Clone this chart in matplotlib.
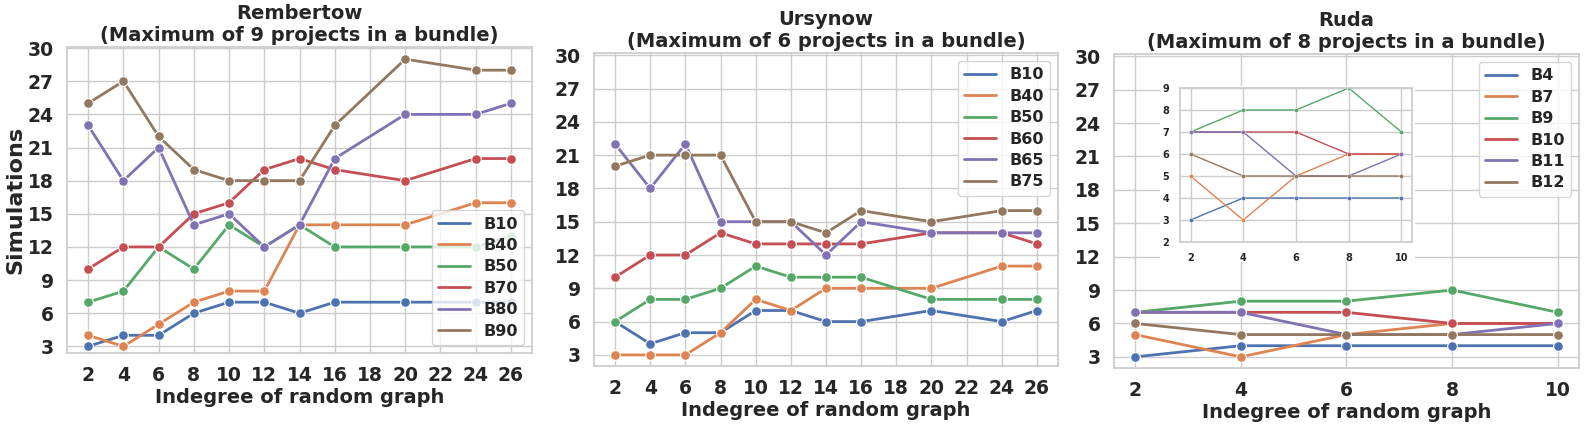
import matplotlib
matplotlib.use('Agg')
import matplotlib.pyplot as plt
import seaborn as sns
from matplotlib.patches import Rectangle
from matplotlib.lines import Line2D

# ---- data ----
x_big = [2, 4, 6, 8, 10, 12, 14, 16, 20, 24, 26]
x_ruda = [2, 4, 6, 8, 10]

rem_labels = ['B10', 'B40', 'B50', 'B70', 'B80', 'B90']
rem_b10 = [3, 4, 4, 6, 7, 7, 6, 7, 7, 7, 7]
rem_b40 = [4, 3, 5, 7, 8, 8, 14, 14, 14, 16, 16]
rem_b50 = [7, 8, 12, 10, 14, 12, 14, 12, 12, 12, 13]
rem_b70 = [10, 12, 12, 15, 16, 19, 20, 19, 18, 20, 20]
rem_b80 = [23, 18, 21, 14, 15, 12, 14, 20, 24, 24, 25]
rem_b90 = [25, 27, 22, 19, 18, 18, 18, 23, 29, 28, 28]

urs_labels = ['B10', 'B40', 'B50', 'B60', 'B65', 'B75']
urs_b10 = [6, 4, 5, 5, 7, 7, 6, 6, 7, 6, 7]
urs_b40 = [3, 3, 3, 5, 8, 7, 9, 9, 9, 11, 11]
urs_b50 = [6, 8, 8, 9, 11, 10, 10, 10, 8, 8, 8]
urs_b60 = [10, 12, 12, 14, 13, 13, 13, 13, 14, 14, 13]
urs_b65 = [22, 18, 22, 15, 15, 15, 12, 15, 14, 14, 14]
urs_b75 = [20, 21, 21, 21, 15, 15, 14, 16, 15, 16, 16]

ruda_labels = ['B4', 'B7', 'B9', 'B10', 'B11', 'B12']
ruda_b4 = [3, 4, 4, 4, 4]
ruda_b7 = [5, 3, 5, 6, 6]
ruda_b9 = [7, 8, 8, 9, 7]
ruda_b10 = [7, 7, 7, 6, 6]
ruda_b11 = [7, 7, 5, 5, 6]
ruda_b12 = [6, 5, 5, 5, 5]

titles = ['Rembertow\n(Maximum of 9 projects in a bundle)',
          'Ursynow\n(Maximum of 6 projects in a bundle)',
          'Ruda\n(Maximum of 8 projects in a bundle)']

sns.set_theme(style='whitegrid')
plt.rcParams['font.family'] = ['DejaVu Sans']
plt.rcParams['font.weight'] = 'bold'
colors = sns.color_palette('deep')

fig = plt.figure(figsize=(15.92, 4.24), dpi=100)
ax1 = fig.add_axes([0.0421, 0.1675, 0.2921, 0.7217])
ax2 = fig.add_axes([0.3731, 0.1368, 0.2915, 0.7382])
ax3 = fig.add_axes([0.6997, 0.1321, 0.2921, 0.7406])

panels = [
    (ax1, x_big, [rem_b10, rem_b40, rem_b50, rem_b70, rem_b80, rem_b90], rem_labels, 'lower right', (2.4, 30.1)),
    (ax2, x_big, [urs_b10, urs_b40, urs_b50, urs_b60, urs_b65, urs_b75], urs_labels, 'upper right', (2, 30.2)),
    (ax3, x_ruda, [ruda_b4, ruda_b7, ruda_b9, ruda_b10, ruda_b11, ruda_b12], ruda_labels, 'upper right', (2, 30.2)),
]

for i, (ax, xs, series, labels, loc, ylim) in enumerate(panels):
    for j, ys in enumerate(series):
        ax.plot(xs, ys, marker='o', markersize=7, markeredgecolor='white',
                markeredgewidth=0.8, linewidth=2, color=colors[j])
    ax.set_xticks(range(xs[0], xs[-1] + 1, 2))
    ax.set_yticks(range(3, 31, 3))
    ax.set_ylim(ylim)
    ax.tick_params(labelsize=13.5)
    ax.set_title(titles[i], fontsize=14, fontweight='bold', pad=4)
    ax.set_xlabel('Indegree of random graph', fontsize=14, fontweight='bold', labelpad=2)
    for lab in ax.get_xticklabels() + ax.get_yticklabels():
        lab.set_fontweight('bold')
    # legend shows plain lines only
    handles = [Line2D([], [], color=colors[j], linewidth=2) for j in range(len(labels))]
    ax.legend(handles, labels, loc=loc, handlelength=2.0, handletextpad=0.8,
              labelspacing=0.4, prop={'weight': 'bold', 'size': 11.5})

ax1.set_ylabel('Simulations', fontsize=16, fontweight='bold', labelpad=2)

# white backdrop behind the inset
fig.add_artist(Rectangle((0.7286, 0.3821), 0.1602, 0.4151, transform=fig.transFigure,
                         facecolor='white', edgecolor='none', zorder=1))

ins = fig.add_axes([0.7412, 0.4292, 0.1457, 0.3632], zorder=2)
for j, ys in enumerate([ruda_b4, ruda_b7, ruda_b9, ruda_b10, ruda_b11, ruda_b12]):
    ins.plot(x_ruda, ys, marker='o', markersize=3, markeredgecolor='white',
             markeredgewidth=0.3, linewidth=1, color=colors[j])
ins.set_ylim(2, 9)
ins.set_xticks(x_ruda)
ins.set_yticks(range(2, 10))
ins.tick_params(labelsize=7, pad=2)
for lab in ins.get_xticklabels() + ins.get_yticklabels():
    lab.set_fontweight('bold')

fig.savefig('out.png', dpi=100)
